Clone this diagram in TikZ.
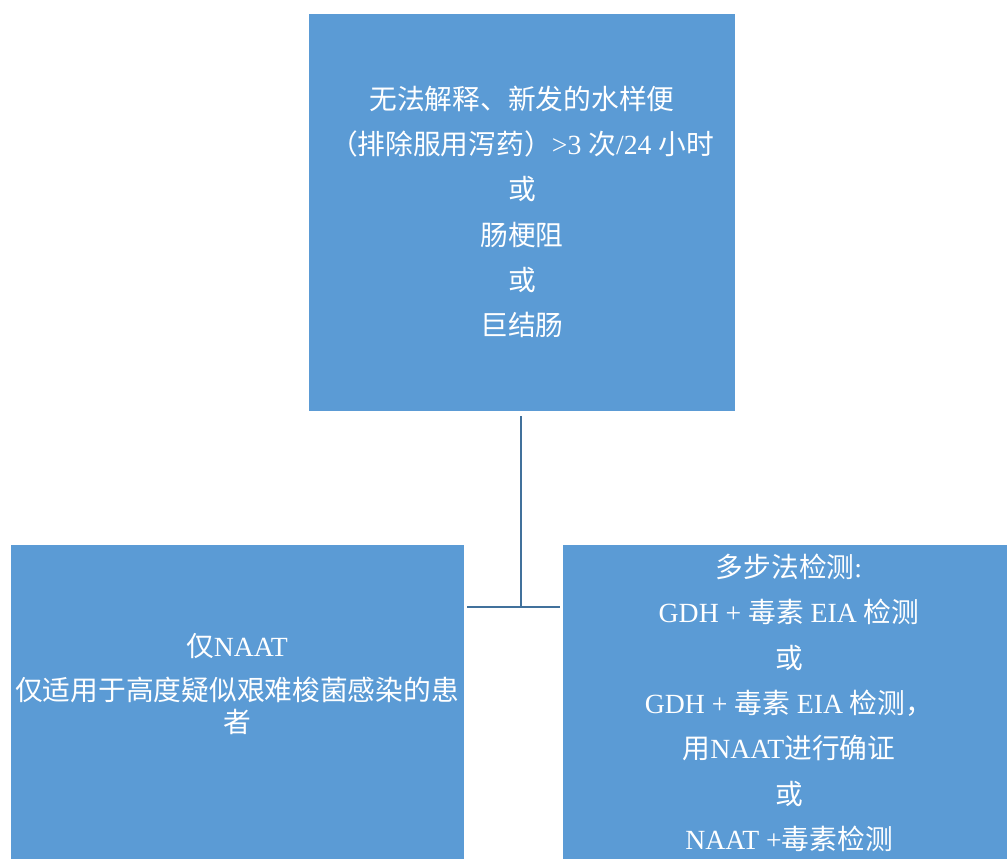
\documentclass[tikz,border=0pt]{standalone}
\usepackage{fontspec}
\setmainfont{Liberation Serif}
\newfontfamily\cjk{Noto Sans CJK SC}
\newcommand{\C}[1]{{\cjk #1}}
\definecolor{boxblue}{HTML}{5B9BD5}
\definecolor{lineblue}{HTML}{41719C}
\begin{document}
\begin{tikzpicture}[x=0.75pt,y=-0.75pt,
  box/.style={fill=boxblue,draw=none,inner sep=0pt},
  lbl/.style={text=white,align=center,inner sep=0pt,font={\fontsize{20.8}{34}\selectfont}},
  conn/.style={draw=lineblue,line width=1.8pt}]
\useasboundingbox (0,0) rectangle (1007,859);
\path[box] (309,14) rectangle (735,411);
\path[box] (11,545) rectangle (464,859);
\path[box] (563,545) rectangle (1007,859);
\coordinate (topS) at (521,411);
\coordinate (left) at (464,607);
\coordinate (right) at (563,607);
\coordinate (junc) at (521,607);
\node[lbl] (toptext) at (522,212) {\C{无法解释、新发的水样便}\\ \C{（排除服用泻药）}>3 \C{次}/24 \C{小时}\\ \C{或}\\ \C{肠梗阻}\\ \C{或}\\ \C{巨结肠}};
\node[lbl,font={\fontsize{20.8}{24}\selectfont}] (lefttext) at (237,684) {\C{仅}NAAT\\[9pt] \C{仅适用于高度疑似艰难梭菌感染的患}\\ \C{者}};
\node[lbl] (righttext) at (789,703) {\C{多步法检测}:\\ GDH + \C{毒素} EIA \C{检测}\\ \C{或}\\ GDH + \C{毒素} EIA \C{检测，}\\ \C{用}NAAT\C{进行确证}\\ \C{或}\\ NAAT +\C{毒素检测}};
\draw[conn,shorten <=4pt] (topS) -- (junc);
\draw[conn,shorten <=2.5pt,shorten >=2.5pt] (left) -- (right);
\end{tikzpicture}
\end{document}
